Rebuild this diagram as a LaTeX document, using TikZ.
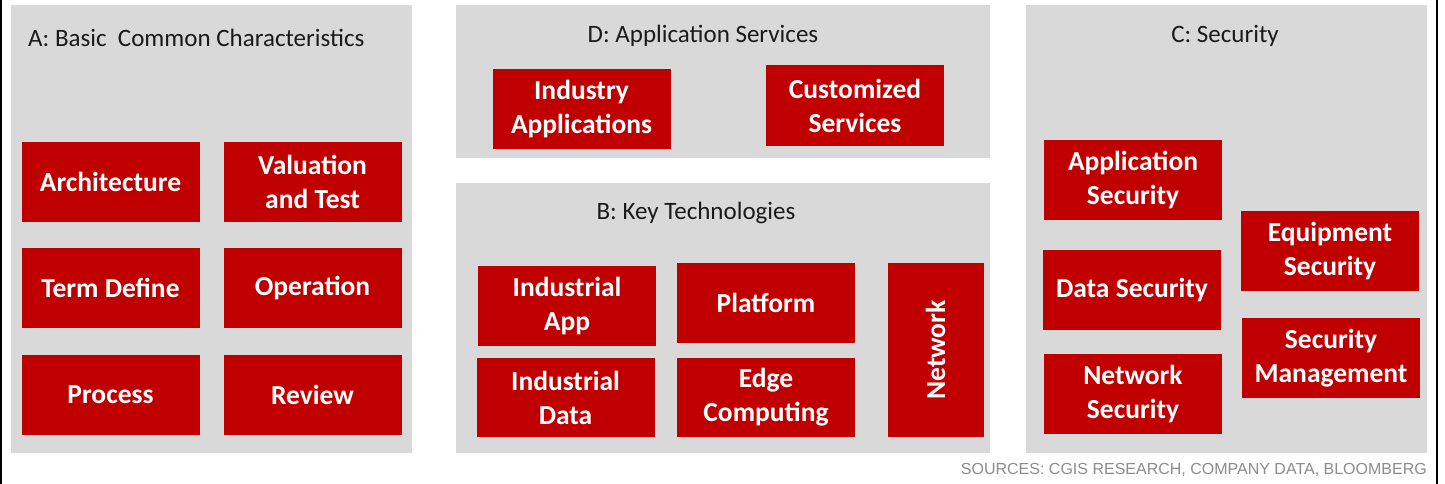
\documentclass[tikz,border=0pt]{standalone}
\usepackage{fontspec}
\setmainfont{Carlito}
\newfontfamily\srcfont{Liberation Sans}
\definecolor{boxred}{HTML}{C00000}
\definecolor{panelgray}{HTML}{D9D9D9}
\definecolor{srcgray}{HTML}{8C8C8C}
\definecolor{titlegray}{HTML}{1A1A1A}
\tikzset{
  panel/.style={fill=panelgray, draw=none},
  rbox/.style={fill=boxred, draw=none, text=white, align=center, inner sep=0pt,
    font=\bfseries\fontsize{27.5}{34}\selectfont, minimum width=178pt, minimum height=80pt},
  ptitle/.style={text=titlegray, inner sep=0pt, font=\fontsize{25}{28}\selectfont},
  edgeline/.style={fill=black, draw=none}
}
\begin{document}
\begin{tikzpicture}[x=1pt,y=-1pt]
\useasboundingbox (0,0) rectangle (1445,484);
\fill[white] (0,0) rectangle (1445,484);
% side lines
\path[edgeline] (0,0) rectangle (2,484);
\path[edgeline] (1436,0) rectangle (1438,484);
% panels
\path[panel] (11,5) rectangle (412,453);
\path[panel] (456,5) rectangle (990,158);
\path[panel] (456,183) rectangle (990,453);
\path[panel] (1026,5) rectangle (1427,453);
% titles
\node[ptitle, anchor=west] (tA) at (28,38) {A: Basic\ \ Common Characteristics};
\node[ptitle] (tD) at (703,36) {D: Application Services};
\node[ptitle] (tB) at (696,213) {B: Key Technologies};
\node[ptitle] (tC) at (1225,36) {C: Security};
% A boxes
\node[rbox] (arch) at (110.5,182) {Architecture};
\node[rbox] (val) at (312.5,182) {Valuation\\and Test};
\node[rbox] (term) at (110.5,287.5) {Term Define};
\node[rbox] (oper) at (312.5,287.5) {Operation};
\node[rbox] (proc) at (110.5,395) {Process};
\node[rbox] (rev) at (312.5,395) {Review};
% D boxes
\node[rbox] (indapps) at (581.5,109) {Industry\\Applications};
\node[rbox] (cust) at (855,105.5) {Customized\\Services};
% B boxes
\node[rbox] (indapp) at (567,306) {Industrial\\App};
\node[rbox] (plat) at (766,303) {Platform};
\node[rbox, minimum height=79pt] (inddata) at (565.5,397.5) {Industrial\\Data};
\node[rbox, minimum height=79pt] (edge) at (766,397.5) {Edge\\Computing};
\node[rbox, minimum width=96pt, minimum height=174pt] (net) at (935.5,350) {};
\node[text=white, font=\bfseries\fontsize{27.5}{34}\selectfont, rotate=90, inner sep=0pt] (netlbl) at (net.center) {Network};
% C boxes
\node[rbox] (appsec) at (1133,180) {Application\\Security};
\node[rbox] (datasec) at (1132,290) {Data Security};
\node[rbox] (netsec) at (1133,394) {Network\\Security};
\node[rbox] (equipsec) at (1330,251) {Equipment\\Security};
\node[rbox] (secmgmt) at (1331,358) {Security\\Management};
% source
\node[anchor=east, text=srcgray, inner sep=0pt, font=\srcfont\fontsize{16}{18}\selectfont] (src) at (1427,470) {SOURCES: CGIS RESEARCH, COMPANY DATA, BLOOMBERG};
\end{tikzpicture}
\end{document}
